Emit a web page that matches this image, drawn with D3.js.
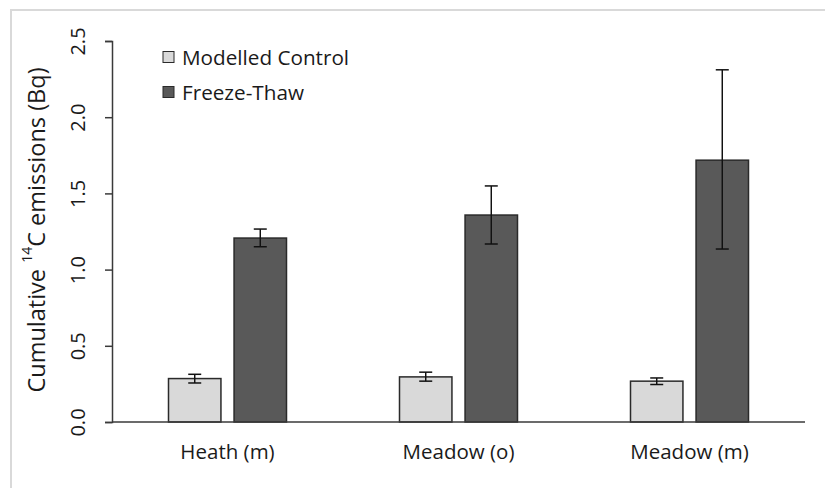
<!DOCTYPE html>
<html>
<head>
<meta charset="utf-8">
<script src="https://cdn.jsdelivr.net/npm/d3@7/dist/d3.min.js"></script>
<style>
  html, body { margin: 0; padding: 0; background: #fff; }
  svg { display: block; }
  text { font-family: "Open Sans", sans-serif; fill: #1a1a1a; }
</style>
</head>
<body>
<svg id="chart" width="825" height="488"></svg>
<script>
// Cumulative 14C emissions by site, modelled control vs. freeze-thaw
const categories = ["Heath (m)", "Meadow (o)", "Meadow (m)"];
const seriesNames = ["Modelled Control", "Freeze-Thaw"];
const controlMean = [0.285, 0.296, 0.268];
const controlLow  = [0.256, 0.268, 0.246];
const controlHigh = [0.313, 0.327, 0.289];
const thawMean = [1.207, 1.358, 1.718];
const thawLow  = [1.150, 1.168, 1.135];
const thawHigh = [1.266, 1.549, 2.311];
const yTicks = [0.0, 0.5, 1.0, 1.5, 2.0, 2.5];

const fills = ["#d9d9d9", "#595959"];

const rows = categories.map((c, i) => ({
  category: c,
  values: [
    { series: seriesNames[0], mean: controlMean[i], low: controlLow[i], high: controlHigh[i] },
    { series: seriesNames[1], mean: thawMean[i], low: thawLow[i], high: thawHigh[i] }
  ]
}));

const svg = d3.select("#chart");

// outer frame
svg.append("rect")
  .attr("x", 11).attr("y", 10)
  .attr("width", 830).attr("height", 500)
  .attr("fill", "none")
  .attr("stroke", "#d9d9d9")
  .attr("stroke-width", 2);

const plot = { left: 112, right: 805, top: 41, bottom: 422 };

const y = d3.scaleLinear().domain([0, 2.5]).range([plot.bottom, plot.top]);

const groupInner = 1 - 118 / 231;
const x0 = d3.scaleBand()
  .domain(categories)
  .range([plot.left, plot.right])
  .paddingInner(groupInner)
  .paddingOuter(groupInner / 2);

const x1 = d3.scaleBand()
  .domain(seriesNames)
  .range([0, x0.bandwidth()])
  .paddingInner(0.2)
  .paddingOuter(0);

const colour = d3.scaleOrdinal().domain(seriesNames).range(fills);

// y axis
const yAxis = d3.axisLeft(y)
  .tickValues(yTicks)
  .tickFormat(d3.format(".1f"))
  .tickSizeOuter(0)
  .tickSize(7);

const gy = svg.append("g")
  .attr("transform", `translate(${plot.left},0)`)
  .call(yAxis);
gy.attr("font-size", null).attr("font-family", null);
gy.select(".domain").attr("stroke", "#3a3a3a").attr("stroke-width", 1.5);
gy.selectAll(".tick line").attr("stroke", "#3a3a3a").attr("stroke-width", 1.5);
gy.selectAll(".tick text")
  .attr("x", 0).attr("dy", 0)
  .attr("transform", "translate(-35,0) rotate(-90)")
  .attr("text-anchor", "middle")
  .attr("dominant-baseline", "central")
  .style("font-size", "20px")
  .attr("fill", "#1a1a1a");

// groups of bars
const groups = svg.append("g").selectAll("g")
  .data(rows)
  .join("g")
  .attr("transform", d => `translate(${x0(d.category)},0)`);

groups.selectAll("rect")
  .data(d => d.values)
  .join("rect")
  .attr("x", d => x1(d.series))
  .attr("y", d => y(d.mean))
  .attr("width", x1.bandwidth())
  .attr("height", d => y(0) - y(d.mean))
  .attr("fill", d => colour(d.series))
  .attr("stroke", "#2a2a2a")
  .attr("stroke-width", 1.5);

// error bars
const capHalf = 6.5;
const err = groups.selectAll("g.err")
  .data(d => d.values)
  .join("g")
  .attr("class", "err")
  .attr("stroke", "#111")
  .attr("stroke-width", 1.5);

err.append("line")
  .attr("x1", d => x1(d.series) + x1.bandwidth() / 2)
  .attr("x2", d => x1(d.series) + x1.bandwidth() / 2)
  .attr("y1", d => y(d.low))
  .attr("y2", d => y(d.high));
err.append("line")
  .attr("x1", d => x1(d.series) + x1.bandwidth() / 2 - capHalf)
  .attr("x2", d => x1(d.series) + x1.bandwidth() / 2 + capHalf)
  .attr("y1", d => y(d.high))
  .attr("y2", d => y(d.high));
err.append("line")
  .attr("x1", d => x1(d.series) + x1.bandwidth() / 2 - capHalf)
  .attr("x2", d => x1(d.series) + x1.bandwidth() / 2 + capHalf)
  .attr("y1", d => y(d.low))
  .attr("y2", d => y(d.low));

// x axis
const xAxis = d3.axisBottom(x0).tickSize(0).tickSizeOuter(0).tickPadding(22);
const gx = svg.append("g")
  .attr("transform", `translate(0,${plot.bottom})`)
  .call(xAxis);
gx.attr("font-size", null).attr("font-family", null);
gx.select(".domain").attr("stroke", "#3a3a3a").attr("stroke-width", 1.5)
  .attr("d", `M${plot.left},0H${plot.right}`);
gx.selectAll(".tick text")
  .style("font-size", "20.5px")
  .attr("fill", "#1a1a1a");

// y axis title
const title = svg.append("text")
  .attr("transform", "translate(36,230) rotate(-90)")
  .attr("text-anchor", "middle")
  .attr("dominant-baseline", "central")
  .style("font-size", "23.5px");
title.append("tspan").text("Cumulative ");
title.append("tspan").text("14").style("font-size", "14px").attr("baseline-shift", "super");
title.append("tspan").text("C emissions (Bq)");

// legend
const legend = svg.append("g").attr("transform", "translate(163,0)");
const legendRows = legend.selectAll("g")
  .data(seriesNames)
  .join("g")
  .attr("transform", (d, i) => `translate(0,${57 + i * 35})`);
legendRows.append("rect")
  .attr("x", 0).attr("y", -5.5)
  .attr("width", 11).attr("height", 11)
  .attr("fill", d => colour(d))
  .attr("stroke", "#2a2a2a")
  .attr("stroke-width", 1);
legendRows.append("text")
  .attr("x", 19)
  .attr("dominant-baseline", "central")
  .style("font-size", "20.7px")
  .text(d => d);
</script>
</body>
</html>
